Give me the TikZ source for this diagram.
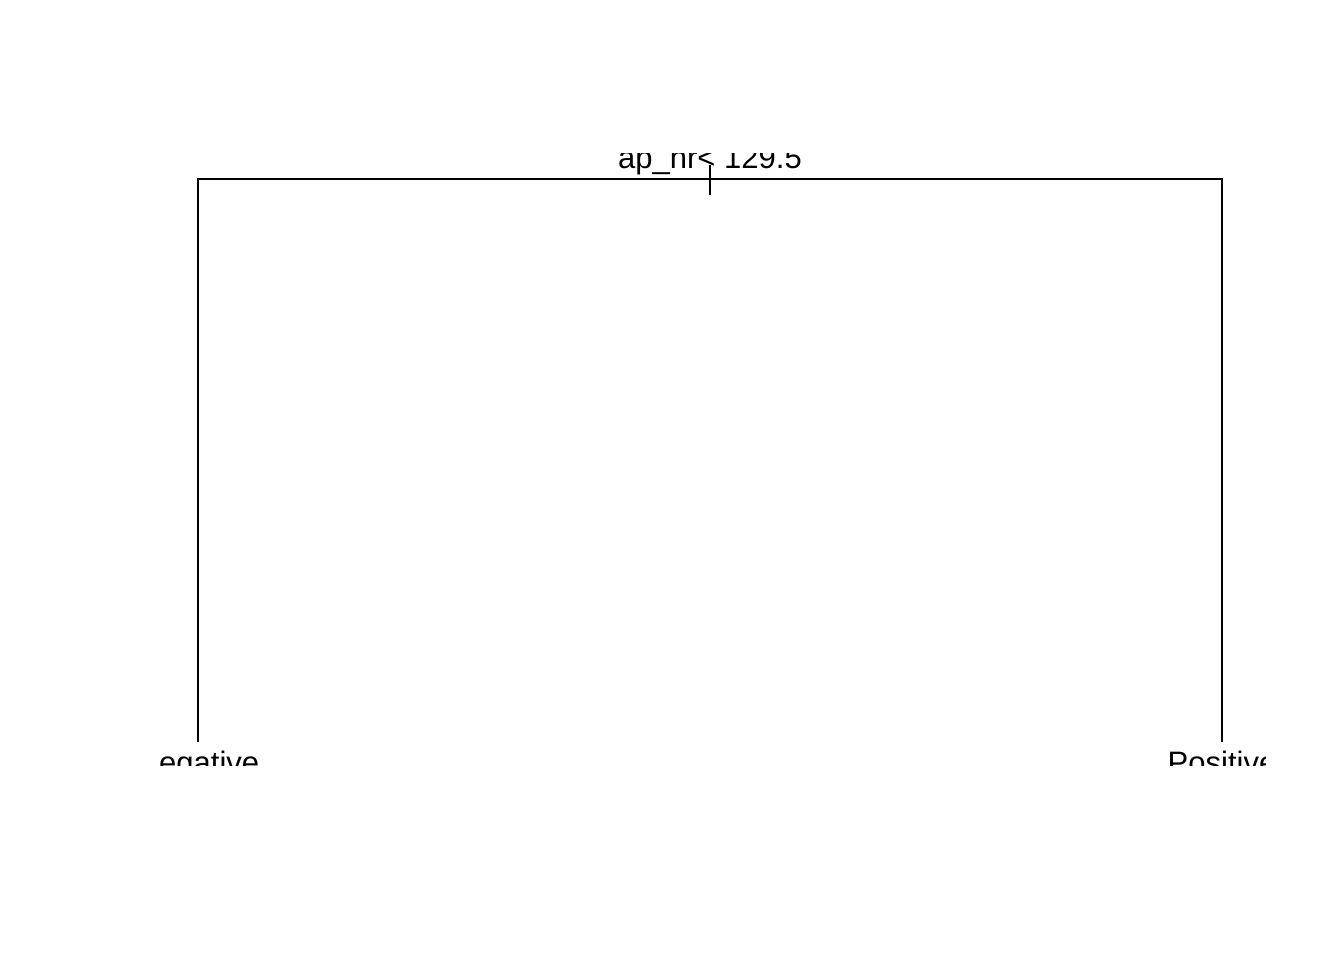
\documentclass[tikz,border=0pt]{standalone}
\usepackage{fontspec}
\setmainfont{Liberation Sans}
\usetikzlibrary{positioning, calc}

\begin{document}
\begin{tikzpicture}[
    x=1pt, y=-1pt,
    branch/.style={
        line width=1.5pt,
        black
    },
    splitlabel/.style={
        anchor=base,
        inner sep=0pt,
        font=\fontsize{31}{37}\selectfont
    },
    leaflabel/.style={
        splitlabel
    }
]

    % Page
    \useasboundingbox (0,0) rectangle (1344,960);

    % Tree nodes
    \coordinate (root) at (710,179);
    \coordinate (rootTop) at (710,165);
    \coordinate (rootBot) at (710,195);
    \coordinate (leafNeg) at (198,742);
    \coordinate (leafPos) at (1222,742);

    % Branches
    \draw[branch] (leafNeg) |- (root) -| (leafPos);
    \draw[branch] (rootTop) -- (rootBot);

    % Labels, clipped to the plot region
    \begin{scope}
        \clip (157,154) rectangle (1265,765);
        \node[splitlabel] (split) at (710,169) {ap\_hr< 129.5};
        \node[leaflabel] (neg) at (198,773) {Negative};
        \node[leaflabel] (pos) at (1222,773) {Positive};
    \end{scope}

\end{tikzpicture}
\end{document}
